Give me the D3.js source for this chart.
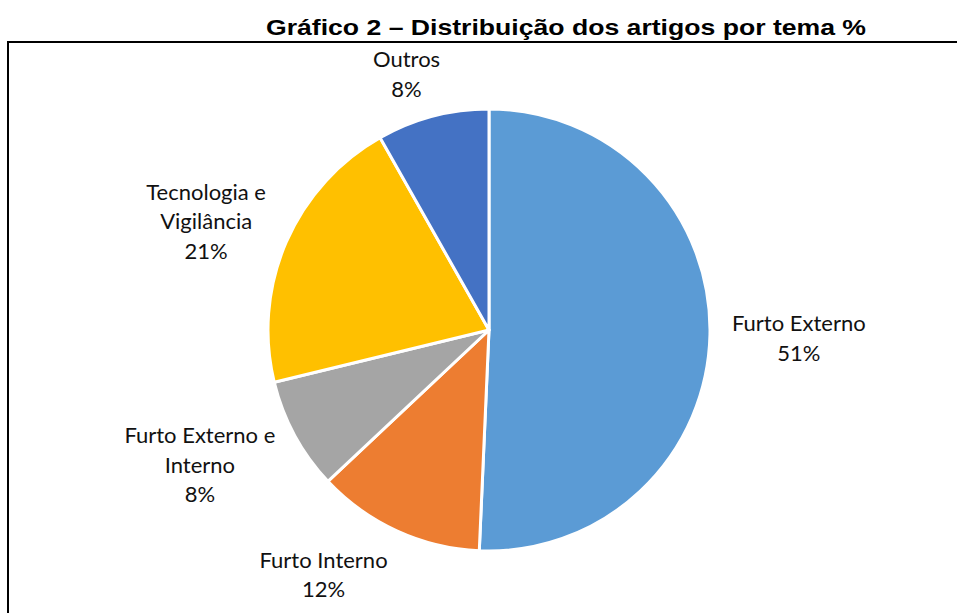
<!DOCTYPE html>
<html>
<head>
<meta charset="utf-8">
<script src="https://cdn.jsdelivr.net/npm/d3@7"></script>
<style>
  body { margin: 0; background: #fff; }
</style>
</head>
<body>
<script>
// Gráfico 2 - pie of articles by theme
const WIDTH = 957
const HEIGHT = 613
const CX = 489, CY = 330, RADIUS = 221
const LABEL_GAP = 22
const LINE_H = 29.5

const categories = ["Furto Externo", "Furto Interno", "Furto Externo e Interno", "Tecnologia e Vigilância", "Outros"]
const values = [50.7, 12.3, 8.2, 20.6, 8.2]
const percentLabels = ["51%", "12%", "8%", "21%", "8%"]
const colors = ["#5B9BD5", "#ED7D31", "#A5A5A5", "#FFC000", "#4472C4"]

const data = categories.map((c, i) => ({name: c, value: values[i], pct: percentLabels[i], color: colors[i]}))

const svg = d3.select("body").append("svg")
    .attr("width", WIDTH)
    .attr("height", HEIGHT)

// frame round the chart area (right and bottom run off the page)
svg.append("rect")
    .attr("x", 8).attr("y", 42)
    .attr("width", WIDTH + 10).attr("height", HEIGHT)
    .attr("fill", "none")
    .attr("stroke", "#000")
    .attr("stroke-width", 2)

// title is stretched a bit wide in the original
svg.append("text")
    .attr("x", 266).attr("y", 35)
    .attr("textLength", 600)
    .attr("lengthAdjust", "spacingAndGlyphs")
    .style("font-family", "'Liberation Sans', Arial, sans-serif")
    .style("font-weight", "bold")
    .style("font-size", "22px")
    .text("Gráfico 2 – Distribuição dos artigos por tema %")

const pie = d3.pie().value(d => d.value).sort(null)
const arc = d3.arc().innerRadius(0).outerRadius(RADIUS)
const arcs = pie(data)

const g = svg.append("g").attr("transform", `translate(${CX},${CY})`)

g.selectAll("path")
    .data(arcs)
    .join("path")
    .attr("d", arc)
    .attr("fill", d => d.data.color)
    .attr("stroke", "#fff")
    .attr("stroke-width", 3)
    .attr("stroke-linejoin", "round")

// labels: wrap the name, add the percentage, then push the box just outside the pie
const MAX_W = 160
const KX = 2.4, KY = 0.8
const clamp = v => Math.max(-1, Math.min(1, v))

const labels = g.selectAll(".lbl")
    .data(arcs)
    .join("text")
    .attr("class", "lbl")
    .attr("text-anchor", "middle")
    .style("font-family", "Lato, 'Noto Sans', sans-serif")
    .style("font-size", "22px")
    .style("fill", "#111")

labels.each(function(d) {
    const t = d3.select(this)
    const words = d.data.name.split(" ")
    let lines = [], cur = []
    const probe = t.append("tspan")
    words.forEach(w => {
        const test = cur.concat(w).join(" ")
        probe.text(test)
        if (probe.node().getComputedTextLength() > MAX_W && cur.length) {
            lines.push(cur.join(" "))
            cur = [w]
        } else {
            cur.push(w)
        }
    })
    lines.push(cur.join(" "))
    probe.remove()
    lines.push(d.data.pct)
    lines.forEach((l, i) => {
        t.append("tspan").attr("x", 0).attr("y", i * LINE_H).text(l)
    })
    const w = this.getBBox().width
    const h = lines.length * LINE_H
    const a = (d.startAngle + d.endAngle) / 2
    const s = Math.sin(a), c = Math.cos(a)
    const px = (RADIUS + LABEL_GAP) * s
    const py = -(RADIUS + LABEL_GAP) * c
    const bx = px + clamp(s * KX) * w / 2
    const by = py - clamp(c * KY) * h / 2
    const y0 = by - h / 2 + LINE_H / 2 + 10
    t.attr("transform", `translate(${bx},${y0})`)
})
</script>
</body>
</html>
